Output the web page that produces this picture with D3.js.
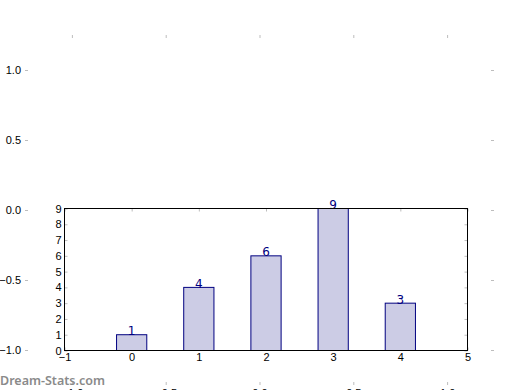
<!DOCTYPE html>
<html>
<head>
<meta charset="utf-8">
<script src="https://cdn.jsdelivr.net/npm/d3@7"></script>
<style>
  body { margin: 0; background: #fff; }
  svg { display: block; font-family: "DejaVu Sans", sans-serif; }
</style>
</head>
<body>
<svg id="chart" width="520" height="390"></svg>
<script>
// bar data
var categories = [0, 1, 2, 3, 4];
var counts = [1, 4, 6, 9, 3];
var innerXTicks = [-1, 0, 1, 2, 3, 4, 5];
var innerYTicks = [0, 1, 2, 3, 4, 5, 6, 7, 8, 9];
// empty background axes
var outerTicks = [-1.0, -0.5, 0.0, 0.5, 1.0];

var svg = d3.select("#chart");
var tickGray = "#bdbdbd";
var minus = s => s.replace("-", "\u2212");

// ---- outer (empty) axes ----
var ox = d3.scaleLinear().domain([-1.25, 1.25]).range([25, 494]),
    oy = d3.scaleLinear().domain([-1.25, 1.25]).range([385, 35]);

var styleAxis = function (g) {
    g.select(".domain").remove();
    g.selectAll(".tick line").attr("stroke", tickGray);
    g.selectAll(".tick text").attr("fill", "#000").style("font-size", "11px");
};

svg.append("g").attr("transform", "translate(" + ox.range()[0] + ",0)")
    .call(d3.axisLeft(oy).tickValues(outerTicks).tickSize(-3).tickPadding(4)
        .tickFormat(d => minus(d3.format(".1f")(d))))
    .call(styleAxis);
svg.append("g").attr("transform", "translate(" + ox.range()[1] + ",0)")
    .call(d3.axisRight(oy).tickValues(outerTicks).tickSize(-3).tickFormat(""))
    .call(styleAxis);
svg.append("g").attr("transform", "translate(0," + oy.range()[1] + ")")
    .call(d3.axisTop(ox).tickValues(outerTicks).tickSize(-3).tickFormat(""))
    .call(styleAxis);
svg.append("g").attr("transform", "translate(0," + oy.range()[0] + ")")
    .call(d3.axisBottom(ox).tickValues(outerTicks).tickSize(-3).tickPadding(4)
        .tickFormat(d => minus(d3.format(".1f")(d))))
    .call(styleAxis);

// ---- inner bar chart ----
var pLeft = 64.5, pRight = 467.5, pTop = 208.5, pBottom = 350.5;
var x = d3.scaleLinear().domain([-1, 5]).range([pLeft, pRight]),
    y = d3.scaleLinear().domain([0, 9]).range([pBottom, pTop]);
var barW = 0.45;

svg.append("g").attr("transform", "translate(" + pLeft + ",0)")
    .call(d3.axisLeft(y).tickValues(innerYTicks).tickSize(-3).tickPadding(3))
    .call(styleAxis);
svg.append("g").attr("transform", "translate(" + pRight + ",0)")
    .call(d3.axisRight(y).tickValues(innerYTicks).tickSize(-3).tickFormat(""))
    .call(styleAxis);
svg.append("g").attr("transform", "translate(0," + pTop + ")")
    .call(d3.axisTop(x).tickValues(innerXTicks).tickSize(-3).tickFormat(""))
    .call(styleAxis);
svg.append("g").attr("transform", "translate(0," + pBottom + ")")
    .call(d3.axisBottom(x).tickValues(innerXTicks).tickSize(-3).tickPadding(3)
        .tickFormat(d => minus(String(d))))
    .call(styleAxis);

svg.append("g").selectAll("rect")
    .data(counts)
    .enter().append("rect")
    .attr("x", (d, i) => x(categories[i] - barW / 2))
    .attr("width", (d, i) => x(categories[i] + barW / 2) - x(categories[i] - barW / 2))
    .attr("y", d => y(d))
    .attr("height", d => y(0) - y(d))
    .attr("fill", "#ccccE5")
    .attr("stroke", "#000080")
    .attr("stroke-width", 1);

svg.append("g").selectAll("text")
    .data(counts)
    .enter().append("text")
    .attr("x", (d, i) => x(categories[i]))
    .attr("y", d => y(d) + 0.5)
    .attr("text-anchor", "middle")
    .attr("fill", "#000080")
    .style("font-size", "12px")
    .text(d => d);

svg.append("rect")
    .attr("x", pLeft).attr("y", pTop)
    .attr("width", pRight - pLeft).attr("height", pBottom - pTop)
    .attr("fill", "none").attr("stroke", "#000").attr("stroke-width", 1);

// watermark
svg.append("text")
    .attr("x", 0).attr("y", 384.5)
    .attr("fill", "#8a8a8a")
    .style("font-family", "'Noto Sans', sans-serif")
    .style("font-size", "12.5px")
    .style("font-weight", "600")
    .text("Dream-Stats.com");
</script>
</body>
</html>
